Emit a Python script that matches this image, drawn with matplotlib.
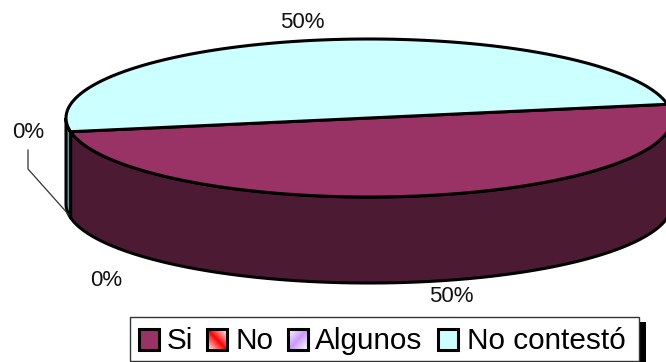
import numpy as np
from matplotlib import pyplot as plt
from matplotlib.colors import to_rgb
from matplotlib.patches import Polygon, Rectangle

plt.rcParams['font.family'] = ['Liberation Sans', 'DejaVu Sans']

categories = ['Si', 'No', 'Algunos', 'No contestó']
values = [50, 0, 0, 50]
top_colors = ['#993366', '#ff0000', '#cc99ff', '#ccffff']
side_colors = ['#4d1a33', '#800000', '#664d80', '#669999']

# pie geometry, in pixels
cx, cy = 369, 118
rx, ry = 303, 79
depth = 86
start = 10

fig = plt.figure(figsize=(6.66, 3.62), dpi=100)
ax = fig.add_axes([0, 0, 1, 1])


def rim(a, b, dy=0):
    t = np.radians(np.linspace(a, b, 200))
    return np.column_stack([cx + rx * np.cos(t), cy - ry * np.sin(t) + dy])


# slices run clockwise from the start angle
edges = start - np.cumsum([0] + values) * 3.6
slices = list(zip(edges[:-1], edges[1:], top_colors, side_colors))

# outer wall, only the part facing the viewer
for a, b, top, side in slices:
    lo = max(b, -180)
    hi = min(a, 0)
    if hi > lo:
        pts = np.vstack([rim(hi, lo), rim(lo, hi, depth)])
        ax.add_patch(Polygon(pts, fc=side, ec='black', lw=2.2, zorder=2))

# top faces
for a, b, top, side in slices:
    if a > b:
        pts = np.vstack([[(cx, cy)], rim(a, b)])
        ax.add_patch(Polygon(pts, fc=top, ec='black', lw=2.2, zorder=3))

# percentage labels
label_pos = [(451, 297), (106, 281), (28, 133), (302, 22)]
for v, (x, y) in zip(values, label_pos):
    ax.text(x, y, '%d%%' % v, fontsize=16, ha='center', va='center', color='#111111')

# leader line of the left label
ax.plot([28, 28, 69], [150, 169, 215], color='#333333', lw=0.9, zorder=4)

# legend box with shadow
ax.add_patch(Rectangle((136, 322), 510, 42, fc='black', ec='none', zorder=5))
ax.add_patch(Rectangle((130, 317), 509, 44, fc='white', ec='#333333', lw=1, zorder=6))

swatch_x = [139, 207, 288, 438]
text_x = [167, 236, 315, 467]
for i, name in enumerate(categories):
    sx = swatch_x[i]
    color = top_colors[i]
    if name in ('No', 'Algunos'):
        # colour band along a diagonal, fading to white in the corners
        n = 20
        rows, cols = np.mgrid[0:n, 0:n]
        if name == 'No':
            g = np.abs(rows - cols) / (n - 1)
        else:
            g = np.abs(rows + cols - (n - 1)) / (n - 1)
        rgb = np.array(to_rgb(color))
        img = 1 - (1 - g[..., None]) * (1 - rgb)
        ax.imshow(img, extent=(sx, sx + 20, 350, 329), zorder=7, aspect='auto')
        ax.add_patch(Rectangle((sx, 329), 20, 21, fc='none', ec='black', lw=2.2, zorder=8))
    else:
        ax.add_patch(Rectangle((sx, 329), 20, 21, fc=color, ec='black', lw=2.2, zorder=8))
    ax.text(text_x[i], 349, name, fontsize=21.4, ha='left', va='baseline', color='black', zorder=8)

ax.set_xlim(0, 666)
ax.set_ylim(362, 0)
ax.axis('off')

fig.savefig('out.png', dpi=100)
